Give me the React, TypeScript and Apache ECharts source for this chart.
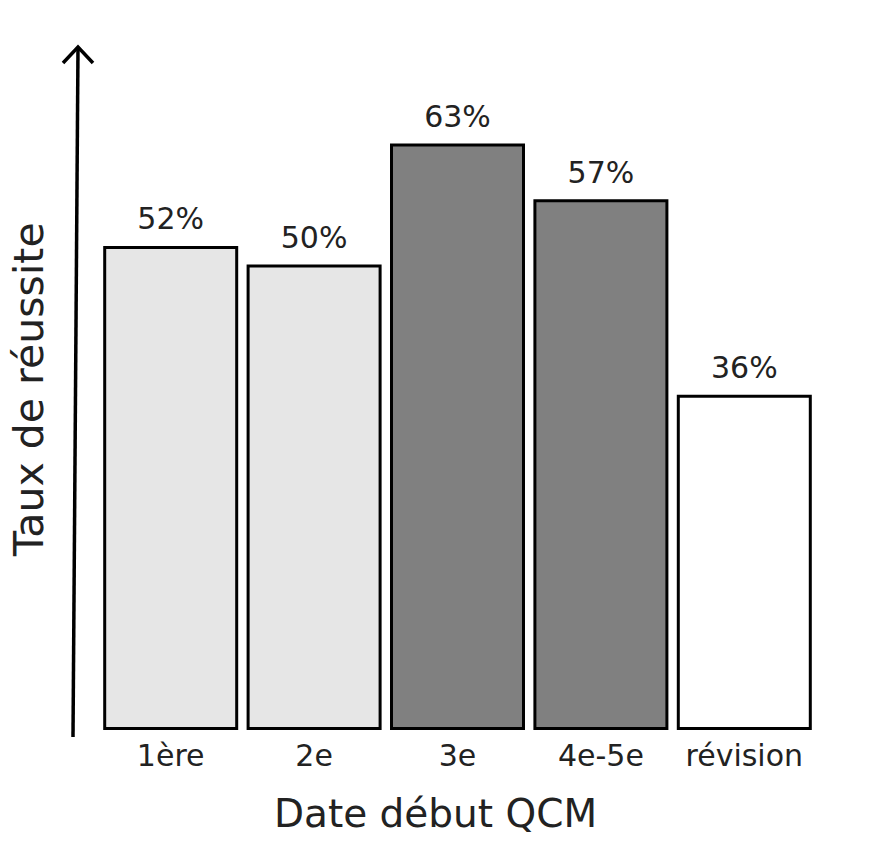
import React, { useEffect, useRef } from "react";
import * as echarts from "echarts";

const categories = ["1ère", "2e", "3e", "4e-5e", "révision"];
const successRates = [52, 50, 63, 57, 36];
const barColors = ["#e6e6e6", "#e6e6e6", "#808080", "#808080", "#ffffff"];
const xTitle = "Date début QCM";
const yTitle = "Taux de réussite";

const FONT = "'DejaVu Sans', Verdana, sans-serif";
const TEXT = "#222222";

export default function App() {
  const ref = useRef<HTMLDivElement>(null);

  useEffect(() => {
    if (!ref.current) return;
    const chart = echarts.init(ref.current, null, { renderer: "svg" });
    chart.setOption({
      animation: false,
      backgroundColor: "#ffffff",
      textStyle: { fontFamily: FONT },
      grid: { left: 96, right: 66, top: 78.3, bottom: 126, containLabel: false },
      xAxis: {
        type: "category",
        data: categories,
        axisLine: { show: false },
        axisTick: { show: false },
        splitLine: { show: false },
        axisLabel: { color: TEXT, fontSize: 30, fontFamily: FONT, margin: 10, interval: 0 },
        name: xTitle,
        nameLocation: "middle",
        nameGap: 64,
        nameTextStyle: { color: TEXT, fontSize: 39, fontFamily: FONT, padding: [0, 44, 0, 0] },
      },
      yAxis: {
        type: "value",
        min: 0,
        max: 70,
        axisLine: { show: false },
        axisTick: { show: false },
        axisLabel: { show: false },
        splitLine: { show: false },
        name: yTitle,
        nameLocation: "middle",
        nameGap: 50,
        nameTextStyle: { color: TEXT, fontSize: 41, fontFamily: FONT, padding: [0, 0, 0, 30] },
      },
      series: [
        {
          type: "bar",
          barWidth: 135,
          data: successRates.map((v, i) => ({
            value: v,
            itemStyle: { color: barColors[i] },
          })),
          itemStyle: { borderColor: "#000000", borderWidth: 3 },
          label: {
            show: true,
            position: "top",
            distance: 12,
            formatter: "{c}%",
            color: TEXT,
            fontSize: 30,
            fontFamily: FONT,
          },
        },
      ],
      graphic: [
        {
          type: "line",
          shape: { x1: 73, y1: 737, x2: 78, y2: 48 },
          style: { stroke: "#000000", lineWidth: 3.5 },
        },
        {
          type: "polyline",
          shape: { points: [[63, 63], [78, 47], [93, 63]] },
          style: { stroke: "#000000", lineWidth: 3.5, fill: "none" },
        },
      ],
    });
    return () => chart.dispose();
  }, []);

  return (
    <div
      ref={ref}
      style={{ position: "fixed", left: 0, top: 0, width: 882, height: 856 }}
    />
  );
}
